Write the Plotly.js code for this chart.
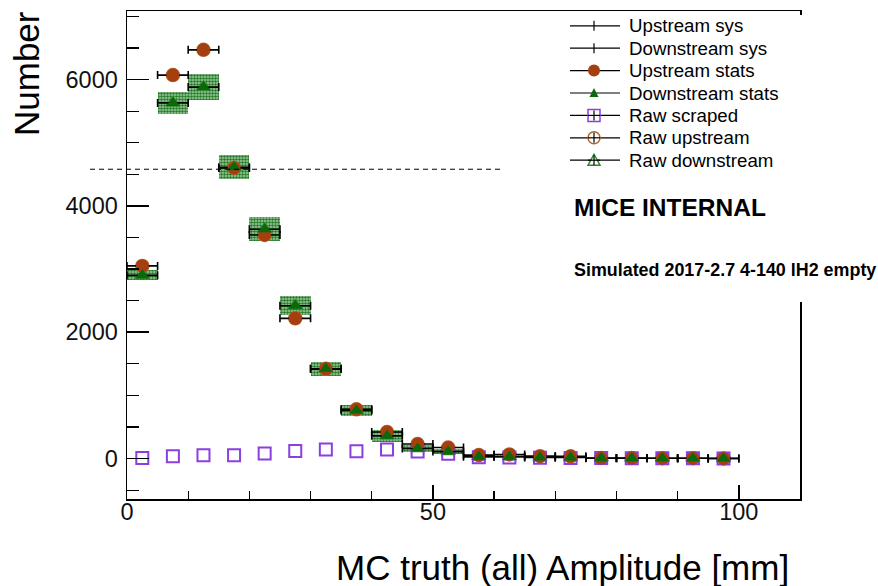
<!DOCTYPE html>
<html><head><meta charset="utf-8">
<script src="https://cdn.plot.ly/plotly-3.0.1.min.js"></script>
<style>html,body{margin:0;padding:0;background:#fff}#chart{width:878px;height:586px}</style>
</head><body><div id="chart"></div>
<script>
// ---------------- data ----------------
const binCenters      = [2.5, 7.5, 12.5, 17.5, 22.5, 27.5, 32.5, 37.5, 42.5, 47.5, 52.5, 57.5, 62.5, 67.5, 72.5, 77.5, 82.5, 87.5, 92.5, 97.5];
const upstreamStats   = [3050, 6070, 6470, 4600, 3540, 2220, 1420, 780, 420, 230, 175, 55, 65, 38, 35, 8, 8, 6, 6, 3];
const downstreamStats = [2900, 5630, 5880, 4610, 3630, 2420, 1420, 760, 360, 160, 110, 30, 30, 18, 18, 6, 6, 4, 4, 2];
const downstreamSys   = [80, 170, 210, 190, 190, 150, 115, 90, 90, 55, 40, 25, 20, 15, 12, 8, 6, 5, 4, 3];
const rawScraped      = [10, 36, 52, 52, 80, 120, 142, 116, 142, 112, 75, 20, 15, 12, 10, 8, 6, 5, 4, 3];
const rawUpstream     = [3050, 6070, 6470, 4600, 3540, 2220, 1420, 780, 420, 230, 175, 55, 65, 38, 35, 8, 8, 6, 6, 3];
const rawDownstream   = [2900, 5630, 5880, 4610, 3630, 2420, 1420, 760, 360, 160, 110, 30, 30, 18, 18, 6, 6, 4, 4, 2];
const binHalfWidth    = 2.5;
const referenceLevel  = 4580;
const legendLabels    = ['Upstream sys', 'Downstream sys', 'Upstream stats', 'Downstream stats', 'Raw scraped', 'Raw upstream', 'Raw downstream'];
const xTitle = 'MC truth (all) Amplitude [mm]';
const yTitle = 'Number';
const textMice = 'MICE INTERNAL';
const textSim  = 'Simulated 2017-2.7 4-140 lH2 empty';

// ---------------- layout helpers ----------------
const W = 878, H = 586, ML = 127, MR = 78, MT = 11, MB = 87;
const PW = W - ML - MR, PH = H - MT - MB;
const XR = [0, 110], YR = [-640, 7085];
const px = v => (v - ML) / PW;          // pixel column -> paper x
const py = v => (H - MB - v) / PH;      // pixel row -> paper y
const FONT = '"Liberation Sans", Arial, Helvetica, sans-serif';

const cBrown = '#a53f0f', cGreen = '#0b690b', cPurple = '#8b3fe0', cRawBrown = '#b8612d', cRawGreen = '#2a8a2a';

const traces = [
  { // downstream systematic boxes
    type: 'bar', x: binCenters,
    base: downstreamStats.map((v, i) => v - downstreamSys[i]),
    y: downstreamSys.map(v => 2 * v),
    width: 2 * binHalfWidth, showlegend: false, hoverinfo: 'skip',
    marker: { color: '#3d913d', line: { width: 0 },
      pattern: { shape: '.', fgcolor: '#27792a', bgcolor: '#a2cfa2', size: 3, solidity: 0.55 } }
  },
  { type: 'scatter', mode: 'markers', name: legendLabels[5], x: binCenters, y: rawUpstream, showlegend: false,
    marker: { symbol: 'circle-open', size: 13, color: cRawBrown, line: { width: 1.5 } } },
  { type: 'scatter', mode: 'markers', name: legendLabels[6], x: binCenters, y: rawDownstream, showlegend: false,
    marker: { symbol: 'triangle-up-open', size: 12, color: cRawGreen, line: { width: 1.5 } } },
  { type: 'scatter', mode: 'markers', name: legendLabels[4], x: binCenters, y: rawScraped, showlegend: false,
    marker: { symbol: 'square-open', size: 12, color: cPurple, line: { width: 2 } } },
  { type: 'scatter', mode: 'markers', name: legendLabels[0], x: binCenters, y: upstreamStats, showlegend: false,
    marker: { size: 2, color: 'rgba(0,0,0,0)' },
    error_x: { type: 'constant', value: binHalfWidth, color: '#000', thickness: 1.6, width: 4 } },
  { type: 'scatter', mode: 'markers', name: legendLabels[1], x: binCenters, y: downstreamStats, showlegend: false,
    marker: { size: 2, color: 'rgba(0,0,0,0)' },
    error_x: { type: 'constant', value: binHalfWidth, color: '#000', thickness: 1.6, width: 4 } },
  { type: 'scatter', mode: 'markers', name: legendLabels[2], x: binCenters, y: upstreamStats, showlegend: false,
    marker: { symbol: 'circle', size: 13, color: cBrown } },
  { type: 'scatter', mode: 'markers', name: legendLabels[3], x: binCenters, y: downstreamStats, showlegend: false,
    marker: { symbol: 'triangle-up', size: 12, color: cGreen } }
];

const shapes = [];
const annotations = [];

// dashed reference line (extends left beyond the frame)
const refPaperY = (referenceLevel - YR[0]) / (YR[1] - YR[0]);
shapes.push({ type: 'line', xref: 'paper', yref: 'paper', x0: px(90), x1: px(503), y0: refPaperY, y1: refPaperY,
  line: { color: '#000', width: 1, dash: '5px,4px' }, layer: 'above' });

// white legend pad covering the frame corner
shapes.push({ type: 'rect', xref: 'paper', yref: 'paper', x0: px(560), x1: px(882), y0: py(302), y1: py(15),
  fillcolor: '#fff', line: { width: 0 }, layer: 'above' });

// manual ROOT-style legend
const rows = [25.8, 48.2, 70.6, 93.0, 115.4, 137.8, 160.2];
const gx = px(594);
rows.forEach((r, i) => {
  const yy = py(r);
  shapes.push({ type: 'line', xref: 'paper', yref: 'paper', x0: px(570), x1: px(620), y0: yy, y1: yy,
    line: { color: '#000', width: 1.2 }, layer: 'above' });
  const tick = { type: 'line', xref: 'paper', yref: 'paper', xsizemode: 'pixel', ysizemode: 'pixel',
    xanchor: gx, yanchor: yy, x0: 0, x1: 0, y0: -5, y1: 5, line: { color: '#000', width: 1.2 }, layer: 'above' };
  const pix = o => Object.assign({ xref: 'paper', yref: 'paper', xsizemode: 'pixel', ysizemode: 'pixel',
    xanchor: gx, yanchor: yy, layer: 'above' }, o);
  if (i === 0 || i === 1) shapes.push(tick);
  if (i === 2) shapes.push(pix({ type: 'circle', x0: -6, x1: 6, y0: -6, y1: 6, fillcolor: cBrown, line: { width: 0 } }));
  if (i === 3) shapes.push(pix({ type: 'path', path: 'M-4.5,-4 L4.5,-4 L0,5 Z', fillcolor: cGreen, line: { width: 0 } }));
  if (i === 4) { shapes.push(pix({ type: 'rect', x0: -6, x1: 6, y0: -6, y1: 6, fillcolor: '#fff', line: { color: cPurple, width: 1.5 } })); shapes.push(tick);
    shapes.push(pix({ type: 'line', x0: -6, x1: 6, y0: 0, y1: 0, line: { color: '#000', width: 1.2 } })); }
  if (i === 5) { shapes.push(pix({ type: 'circle', x0: -6, x1: 6, y0: -6, y1: 6, fillcolor: '#fff', line: { color: cRawBrown, width: 1.5 } })); shapes.push(tick);
    shapes.push(pix({ type: 'line', x0: -6, x1: 6, y0: 0, y1: 0, line: { color: '#000', width: 1.2 } })); }
  if (i === 6) { shapes.push(pix({ type: 'path', path: 'M-6,-5 L6,-5 L0,6 Z', fillcolor: '#fff', line: { color: cRawGreen, width: 1.5 } })); shapes.push(tick);
    shapes.push(pix({ type: 'line', x0: -6, x1: 6, y0: 0, y1: 0, line: { color: '#000', width: 1.2 } })); }
  annotations.push({ xref: 'paper', yref: 'paper', x: px(627), y: yy, xanchor: 'left', yanchor: 'middle',
    text: legendLabels[i], showarrow: false, font: { family: FONT, size: 18.7, color: '#000' } });
});

annotations.push({ xref: 'paper', yref: 'paper', x: px(572), y: py(207), xanchor: 'left', yanchor: 'middle',
  text: '<b>' + textMice + '</b>', showarrow: false, font: { family: FONT, size: 24.5, color: '#000' } });
annotations.push({ xref: 'paper', yref: 'paper', x: px(572), y: py(270), xanchor: 'left', yanchor: 'middle',
  text: '<b>' + textSim + '</b>', showarrow: false, font: { family: FONT, size: 17.9, color: '#000' } });
annotations.push({ xref: 'paper', yref: 'paper', x: px(791), y: py(567), xanchor: 'right', yanchor: 'middle',
  text: xTitle, showarrow: false, font: { family: FONT, size: 35, color: '#000' } });
annotations.push({ xref: 'paper', yref: 'paper', x: px(27), y: py(74), xanchor: 'center', yanchor: 'middle', textangle: -90,
  text: yTitle, showarrow: false, font: { family: FONT, size: 35, color: '#000' } });

const axisCommon = {
  showline: true, linecolor: '#000', linewidth: 1.5, mirror: true, showgrid: false, zeroline: false,
  ticks: 'inside', tickcolor: '#000', tickwidth: 1.5,
  tickfont: { family: FONT, size: 23.5, color: '#111' }
};

const layout = {
  width: W, height: H, margin: { l: ML, r: MR, t: MT, b: MB, pad: 0 },
  paper_bgcolor: '#fff', plot_bgcolor: '#fff', showlegend: false, bargap: 0,
  font: { family: FONT },
  xaxis: Object.assign({}, axisCommon, { range: XR, tick0: 0, dtick: 50, ticklen: 14, ticklabelstandoff: -9,
    minor: { dtick: 10, ticklen: 8, ticks: 'inside', tickcolor: '#000', tickwidth: 1.2 } }),
  yaxis: Object.assign({}, axisCommon, { range: YR, tick0: 0, dtick: 2000, ticklen: 22, ticklabelstandoff: 3,
    minor: { dtick: 500, ticklen: 12, ticks: 'inside', tickcolor: '#000', tickwidth: 1.2 } }),
  shapes: shapes, annotations: annotations
};

Plotly.newPlot('chart', traces, layout, { displayModeBar: false, staticPlot: true });
</script></body></html>
